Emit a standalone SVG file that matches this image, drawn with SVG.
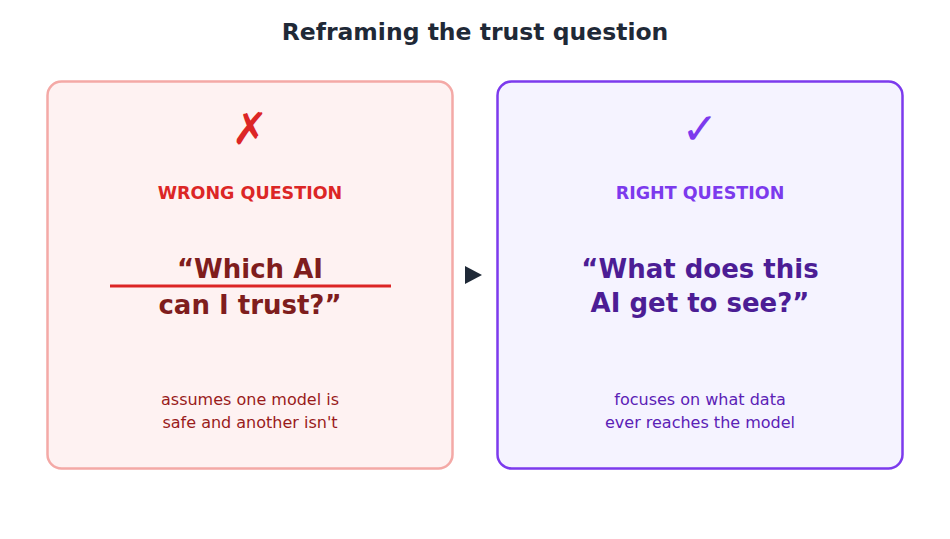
<svg xmlns="http://www.w3.org/2000/svg" width="950" height="539" viewBox="0 0 950 539">
<style>
text{font-family:"DejaVu Sans",sans-serif;text-anchor:middle}
.t{font-size:23.5px;font-weight:bold;fill:#1f2937}
.lbl{font-size:17.5px;font-weight:bold}
.q{font-size:26px;font-weight:bold}
.s{font-size:16px}
.ic{font-size:44px}
</style>
<rect width="950" height="539" fill="#fff"/>
<text class="t" x="475" y="40">Reframing the trust question</text>
<g id="wrong">
<rect x="47.5" y="81.5" width="405" height="387" rx="14" fill="#fef2f2" stroke="#f4a9a6" stroke-width="2.5"/>
<text class="ic" x="250" y="144" fill="#dc2626">✗</text>
<text class="lbl" x="250" y="199" fill="#dc2626">WRONG QUESTION</text>
<text class="q" x="250" y="278" fill="#7f1d1d">“Which AI</text>
<text class="q" x="250" y="314" fill="#7f1d1d">can I trust?”</text>
<line x1="110" y1="286" x2="391" y2="286" stroke="#dc2626" stroke-width="3"/>
<text class="s" x="250" y="405" fill="#991b1b">assumes one model is</text>
<text class="s" x="250" y="428" fill="#991b1b">safe and another isn't</text>
</g>
<g id="right">
<rect x="497.5" y="81.5" width="405" height="387" rx="14" fill="#f5f3ff" stroke="#7c3aed" stroke-width="2.5"/>
<text class="ic" x="700" y="144" fill="#7c3aed">✓</text>
<text class="lbl" x="700" y="199" fill="#7c3aed">RIGHT QUESTION</text>
<text class="q" x="700" y="278" fill="#4c1d95">“What does this</text>
<text class="q" x="700" y="312" fill="#4c1d95">AI get to see?”</text>
<text class="s" x="700" y="405" fill="#5b21b6">focuses on what data</text>
<text class="s" x="700" y="428" fill="#5b21b6">ever reaches the model</text>
</g>
<g id="connectors">
<polygon points="465,266 482,275 465,284" fill="#1f2937"/>
</g>
</svg>
